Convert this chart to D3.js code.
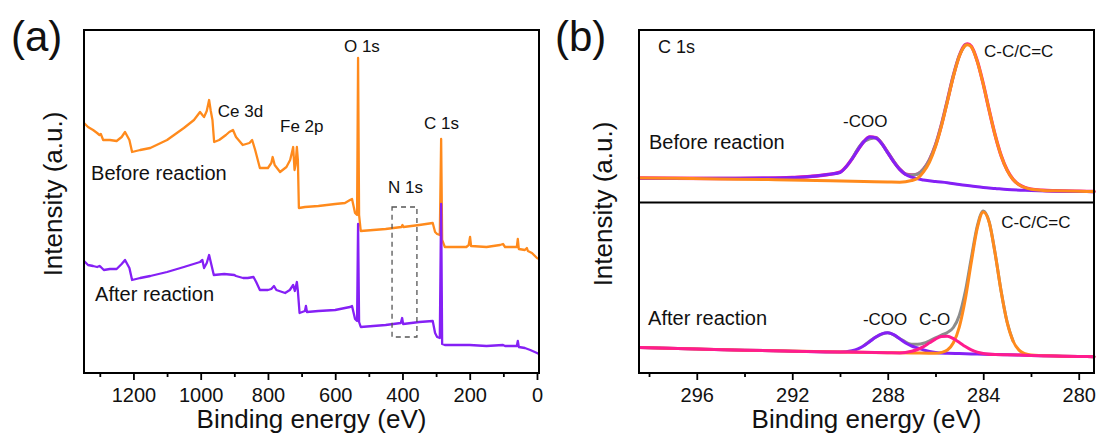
<!DOCTYPE html>
<html><head><meta charset="utf-8">
<script src="https://cdn.jsdelivr.net/npm/d3@7"></script>
<style>
body{margin:0;background:#fff;}
svg{display:block;}
text{font-family:Arial,"Liberation Sans",sans-serif;fill:#111;}
</style>
</head><body>
<svg id="chart" width="1100" height="439"></svg>
<script>
// ---------- Panel (a): XPS survey spectra [binding energy eV, intensity a.u.] ----------
const surveyBefore = [[1347,250],[1335,246],[1320,243],[1308,240],[1301,238],[1297,239],[1290,233],[1270,233],[1250,232],[1235,236],[1225,241],[1212,233],[1204,221],[1180,223],[1150,225],[1100,233],[1050,245],[1020,253],[1002,261],[995,258],[990,256],[982,262],[975,273],[970,262],[965,253],[960,231],[945,233],[925,238],[915,241],[904,243],[895,236],[885,232],[875,228],[855,230],[847,233],[838,223],[824,205],[800,205],[790,210],[786,216],[780,208],[764,201],[745,206],[734,213],[727,223],[725,226],[721,203],[718,208],[714,226],[711,213],[708,165],[690,166],[650,167],[600,169],[571,170],[556,173],[550,174],[541,160],[535,158],[532,315],[529,158],[524,142],[450,144],[403,146],[400,148],[397,146],[350,148],[310,150],[303,141],[297,139],[289,138],[285,234],[282,133],[274,126],[210,126],[203,128],[199,136],[196,127],[150,126],[110,128],[101,129],[95,126],[60,126],[57,134],[54,124],[36,123],[30,125],[27,122],[15,120],[0,115],[-6,114]];
const surveyAfter = [[1347,112],[1335,108],[1320,107],[1308,106],[1301,107],[1297,106],[1288,103],[1270,104],[1250,104],[1235,109],[1225,113],[1212,105],[1204,93],[1180,95],[1150,97],[1100,101],[1050,106],[1002,111],[995,113],[990,105],[982,110],[975,118],[968,108],[961,98],[930,99],[900,98],[895,97],[874,95],[860,95],[843,96],[835,91],[824,83],[800,83],[790,84],[782,87],[775,83],[749,80],[735,83],[725,88],[720,82],[714,91],[711,82],[706,60],[690,62],[687,67],[684,61],[650,62],[600,63],[571,65],[556,66],[550,67],[541,54],[535,52],[532,149],[529,51],[524,46],[450,48],[405,50],[401,55],[398,49],[350,51],[310,52],[303,40],[297,36],[289,35],[285,169],[282,29],[274,28],[200,28],[150,27],[101,28],[95,27],[60,27],[57,32],[54,26],[36,25],[20,23],[0,20],[-6,19]];
const surveyTicks = [1200,1000,800,600,400,200,0];
const surveyMinorTicks = [1300,1100,900,700,500,300,100];
const surveyLabels = [
  {text:"O 1s", e:574, v:321},
  {text:"Ce 3d", e:949, v:256},
  {text:"Fe 2p", e:764, v:241},
  {text:"C 1s", e:336, v:244},
  {text:"N 1s", e:443, v:180}
];
const surveySampleLabels = [
  {text:"Before reaction", e:1326, v:193},
  {text:"After reaction", e:1314, v:72}
];
const n1sBox = {e0:431, e1:357, v0:36, v1:166};

// ---------- Panel (b): C 1s high resolution [binding energy eV, intensity a.u.] ----------
const c1sBeforeRaw = [[298.4,24.5],[297,24.2],[295,24.0],[293,24.3],[292,25.0],[291,26.5],[290.5,28.0],[290,30.3],[289.75,35.6],[289.5,43.5],[289.25,52.7],[289,61],[288.75,65.6],[288.5,64.8],[288.25,59],[288,50],[287.75,41],[287.5,33.4],[287.25,28.4],[287,27.5],[286.75,28.5],[286.5,33.5],[286.25,42.8],[286,57.4],[285.75,77.8],[285.5,102.2],[285.25,127],[285,147],[284.75,158],[284.65,158.6],[284.5,156.3],[284.25,141.5],[284,118.6],[283.75,92.2],[283.5,67.3],[283.25,46.9],[283,32.4],[282.75,23.2],[282.5,17.9],[282.25,15],[282,13.4],[281.5,12.2],[281,11.7],[280,11.2],[279.36,11.0]];
const c1sBeforeEnvelope = [[289.5,43.5],[289,61],[288.5,64.8],[288,50],[287.5,33.4],[287.25,28.4],[287,27.5],[286.75,28.5],[286.5,33.5],[286.25,42.8],[286,57.4],[285.75,77.8],[285.5,102.2],[285.25,127],[285,147],[284.75,157.6]];
const c1sBeforeCOO = [[298.4,24.0],[297,24.0],[295,24.2],[293,24.5],[292,25.0],[291.5,25.5],[291,26.5],[290.5,28.0],[290.0,30.0],[289.75,35.6],[289.5,43.5],[289.25,52.7],[289.0,60.9],[288.75,65.4],[288.5,64.5],[288.25,58.7],[288.0,49.8],[287.75,40.7],[287.5,33.1],[287.25,28.0],[287.0,25.3],[286.5,22.5],[286.0,21.0],[285.5,19.8],[285.0,18.0],[284.5,16.5],[284.0,15.0],[283.5,14.0],[283.0,13.0],[282.0,12.0],[281.0,11.3],[280.0,11.0],[279.36,10.8]];
const c1sBeforeCC = [[298.4,24.5],[297,24.2],[295,23.6],[293,22.9],[291,22.0],[289,21.0],[288,20.5],[287.5,20.3],[287.0,22.0],[286.75,24.3],[286.5,30.7],[286.25,40.5],[286.0,55.7],[285.75,76.3],[285.5,100.9],[285.25,125.9],[285.0,146.2],[284.75,157.0],[284.65,157.8],[284.5,155.7],[284.25,141.0],[284.0,118.3],[283.75,92.0],[283.5,67.1],[283.25,46.7],[283.0,32.2],[282.75,23.0],[282.5,17.7],[282.25,14.8],[282.0,13.3],[281.5,12.1],[281.0,11.7],[280.0,11.2],[279.36,11.0]];

const c1sAfterEnvelope = [[289.0,27.3],[288.5,35.9],[288.0,40.2],[287.5,34.5],[287.0,28.7],[286.75,28.7],[286.5,29.7],[286.25,32.2],[286.0,35.2],[285.75,38.0],[285.5,40.6],[285.25,45.5],[285.0,57.8],[284.75,81.6],[284.5,115.0],[284.25,146.9],[284.0,161.9],[283.75,151.0],[283.5,119.4],[283.25,81.7],[283.0,51.0],[282.75,32.0]];
const c1sAfterCOO = [[298.4,25.5],[296,24.0],[294,22.8],[292,21.8],[290,21.0],[289.5,22.3],[289.25,24.1],[289.0,27.3],[288.75,31.5],[288.5,35.9],[288.25,39.2],[288.0,40.2],[287.75,38.3],[287.5,34.3],[287.25,30.0],[287.0,27.0],[286.75,25.0],[286.5,23.0],[286.25,21.5],[286.0,20.5],[285.5,19.7],[285.0,19.4],[284.5,19.1],[284.0,18.8],[283.0,18.2],[282.0,17.6],[281.0,17.0],[280.0,16.5],[279.36,16.3]];
const c1sAfterCC = [[298.4,25.5],[294,22.8],[290,21.0],[288,20.3],[287,20.0],[286.0,19.7],[285.75,20.6],[285.5,23.0],[285.25,30.2],[285.0,46.2],[284.75,74.0],[284.5,110.7],[284.25,144.8],[284.0,161.1],[283.75,150.7],[283.5,119.2],[283.25,81.6],[283.0,50.9],[282.75,32.0],[282.5,22.9],[282.25,19.4],[282.0,18.0],[281.0,17.0],[280.0,16.5],[279.36,16.3]];
const c1sAfterCO = [[298.4,25.5],[296,24.0],[294,22.8],[292,21.8],[290,21.0],[288,20.3],[287.5,20.1],[287.0,21.7],[286.75,23.5],[286.5,26.4],[286.25,30.2],[286.0,33.9],[285.75,36.4],[285.5,36.7],[285.25,34.4],[285.0,30.6],[284.75,26.5],[284.5,23.2],[284.25,20.9],[284.0,19.6],[283.5,18.5],[283.0,18.2],[282.0,17.6],[281.0,17.0],[280.0,16.5],[279.36,16.3]];
const c1sTicks = [296,292,288,284,280];
const c1sMinorTicks = [298,294,290,286,282];
const c1sTopLabels = [
  {text:"C 1s", e:297.62, v:149.5, size:18},
  {text:"C-C/C=C", e:283.97, v:145.5, size:17},
  {text:"-COO", e:289.87, v:75.5, size:17},
  {text:"Before reaction", e:298.0, v:53.5, size:20}
];
const c1sBottomLabels = [
  {text:"C-C/C=C", e:283.25, v:145, size:17},
  {text:"-COO", e:289.04, v:48, size:17},
  {text:"C-O", e:286.69, v:48, size:17},
  {text:"After reaction", e:298.04, v:48, size:20}
];

// ---------- colours ----------
const ORANGE = "#FF8A1C", PURPLE = "#8520F5", PINK = "#FF1C8E", GREY = "#8C8C8C";

const svg = d3.select("#chart");

// ---------- Panel (a) ----------
const xA = d3.scaleLinear().domain([1347,-6]).range([84,539]);
const yA = d3.scaleLinear().domain([0,343]).range([373,30]);
const lineA = d3.line().x(d=>xA(d[0])).y(d=>yA(d[1]));
const gA = svg.append("g");

gA.append("path").datum(surveyBefore).attr("d",lineA)
  .attr("fill","none").attr("stroke",ORANGE).attr("stroke-width",2.3).attr("stroke-linejoin","round");
gA.append("path").datum(surveyAfter).attr("d",lineA)
  .attr("fill","none").attr("stroke",PURPLE).attr("stroke-width",2.3).attr("stroke-linejoin","round");

gA.append("rect")
  .attr("x",xA(n1sBox.e0)).attr("y",yA(n1sBox.v1))
  .attr("width",xA(n1sBox.e1)-xA(n1sBox.e0)).attr("height",yA(n1sBox.v0)-yA(n1sBox.v1))
  .attr("fill","none").attr("stroke","#555").attr("stroke-width",1.3).attr("stroke-dasharray","5,4");

gA.selectAll("text.peak").data(surveyLabels).join("text").attr("class","peak")
  .attr("x",d=>xA(d.e)).attr("y",d=>yA(d.v)).attr("font-size",17).text(d=>d.text);
gA.selectAll("text.sample").data(surveySampleLabels).join("text").attr("class","sample")
  .attr("x",d=>xA(d.e)).attr("y",d=>yA(d.v)).attr("font-size",20).text(d=>d.text);

gA.append("rect").attr("x",84).attr("y",30).attr("width",455).attr("height",343)
  .attr("fill","none").attr("stroke","#000").attr("stroke-width",2);

const axA = gA.append("g").attr("transform","translate(0,373)")
  .call(d3.axisBottom(xA).tickValues(surveyTicks).tickSize(7).tickPadding(8).tickFormat(d3.format("d")));
const axAm = gA.append("g").attr("transform","translate(0,373)")
  .call(d3.axisBottom(xA).tickValues(surveyMinorTicks).tickSize(4).tickFormat(""));
[axA,axAm].forEach(a=>{a.select(".domain").remove(); a.selectAll("line").attr("stroke","#000").attr("stroke-width",1.8);
  a.selectAll("text").attr("font-size",20).attr("font-family","Arial, 'Liberation Sans', sans-serif").attr("fill","#111");});

gA.append("text").attr("x",311.5).attr("y",428).attr("text-anchor","middle").attr("font-size",26).text("Binding energy (eV)");
gA.append("text").attr("transform","translate(62,194) rotate(-90)").attr("text-anchor","middle").attr("font-size",26).text("Intensity (a.u.)");
gA.append("text").attr("x",11).attr("y",51).attr("font-size",42).text("(a)");

// ---------- Panel (b) ----------
const xB = d3.scaleLinear().domain([298.42,279.36]).range([639,1094]);
const yBtop = d3.scaleLinear().domain([0,172.5]).range([202.5,30]);
const yBbot = d3.scaleLinear().domain([0,170.5]).range([373,202.5]);
const lineTop = d3.line().x(d=>xB(d[0])).y(d=>yBtop(d[1])).curve(d3.curveMonotoneX);
const lineBot = d3.line().x(d=>xB(d[0])).y(d=>yBbot(d[1])).curve(d3.curveMonotoneX);
const gB = svg.append("g");

function curve(data, line, color, w){
  gB.append("path").datum(data).attr("d",line).attr("fill","none")
    .attr("stroke",color).attr("stroke-width",w).attr("stroke-linejoin","round").attr("stroke-linecap","round");
}
curve(c1sBeforeRaw, lineTop, PINK, 3.4);
curve(c1sBeforeEnvelope, lineTop, GREY, 3);
curve(c1sBeforeCOO, lineTop, PURPLE, 3);
curve(c1sBeforeCC, lineTop, ORANGE, 3);

curve(c1sAfterEnvelope, lineBot, GREY, 3);
curve(c1sAfterCOO, lineBot, PURPLE, 3);
curve(c1sAfterCC, lineBot, ORANGE, 3);
curve(c1sAfterCO, lineBot, PINK, 3);

gB.selectAll("text.top").data(c1sTopLabels).join("text").attr("class","top")
  .attr("x",d=>xB(d.e)).attr("y",d=>yBtop(d.v)).attr("font-size",d=>d.size).text(d=>d.text);
gB.selectAll("text.bot").data(c1sBottomLabels).join("text").attr("class","bot")
  .attr("x",d=>xB(d.e)).attr("y",d=>yBbot(d.v)).attr("font-size",d=>d.size).text(d=>d.text);

gB.append("rect").attr("x",639).attr("y",30).attr("width",455).attr("height",343)
  .attr("fill","none").attr("stroke","#000").attr("stroke-width",2);
gB.append("line").attr("x1",639).attr("x2",1094).attr("y1",202.5).attr("y2",202.5)
  .attr("stroke","#000").attr("stroke-width",2);

const axB = gB.append("g").attr("transform","translate(0,373)")
  .call(d3.axisBottom(xB).tickValues(c1sTicks).tickSize(7).tickPadding(8).tickFormat(d3.format("d")));
const axBm = gB.append("g").attr("transform","translate(0,373)")
  .call(d3.axisBottom(xB).tickValues(c1sMinorTicks).tickSize(4).tickFormat(""));
[axB,axBm].forEach(a=>{a.select(".domain").remove(); a.selectAll("line").attr("stroke","#000").attr("stroke-width",1.8);
  a.selectAll("text").attr("font-size",20).attr("font-family","Arial, 'Liberation Sans', sans-serif").attr("fill","#111");});

gB.append("text").attr("x",866.5).attr("y",428).attr("text-anchor","middle").attr("font-size",26).text("Binding energy (eV)");
gB.append("text").attr("transform","translate(612,204) rotate(-90)").attr("text-anchor","middle").attr("font-size",26).text("Intensity (a.u.)");
gB.append("text").attr("x",555).attr("y",51).attr("font-size",42).text("(b)");
</script>
</body></html>
